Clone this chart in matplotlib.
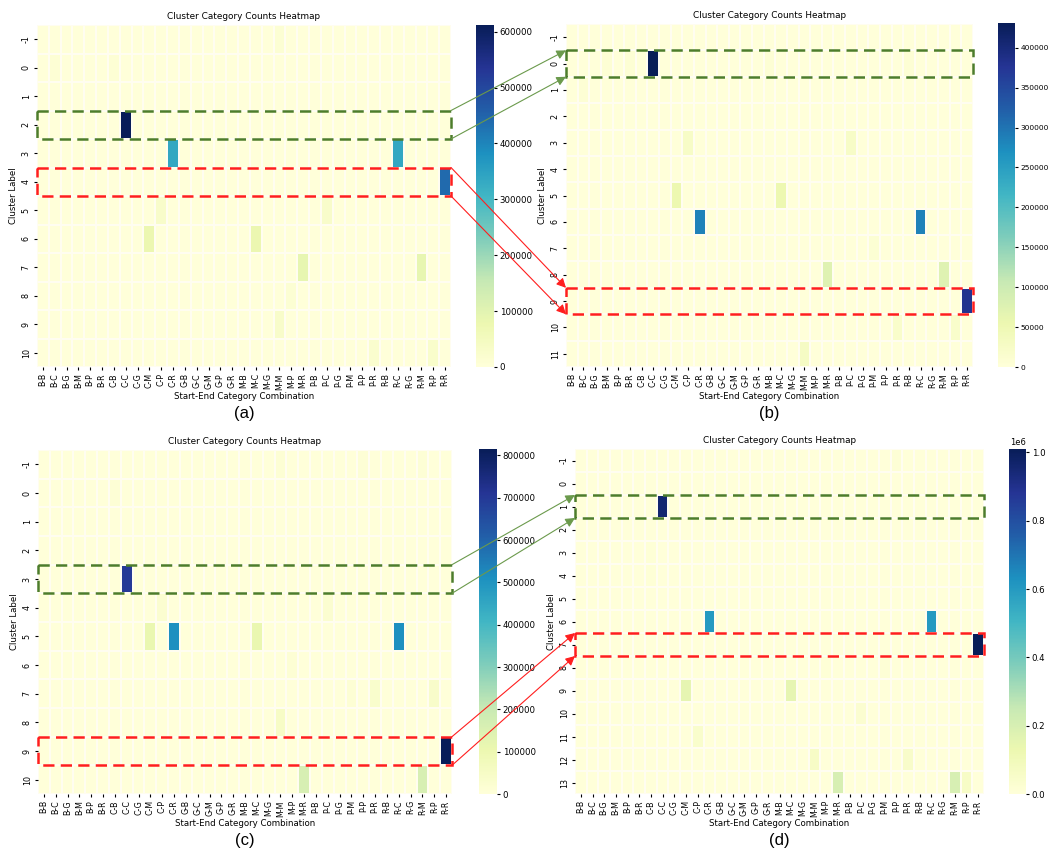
import numpy as np
import pandas as pd
import matplotlib
matplotlib.use('Agg')
import matplotlib.pyplot as plt
import seaborn as sns
from matplotlib.patches import Rectangle, ConnectionPatch

W, H = 1052, 857

combos = ['B-B', 'B-C', 'B-G', 'B-M', 'B-P', 'B-R', 'C-B', 'C-C', 'C-G', 'C-M',
          'C-P', 'C-R', 'G-B', 'G-C', 'G-M', 'G-P', 'G-R', 'M-B', 'M-C', 'M-G',
          'M-M', 'M-P', 'M-R', 'P-B', 'P-C', 'P-G', 'P-M', 'P-P', 'P-R', 'R-B',
          'R-C', 'R-G', 'R-M', 'R-P', 'R-R']

# non-zero counts per (cluster, start-end combination)
clusters_a = list(range(-1, 11))
counts_a = [(-1, 'M-M', 12000), (0, 'B-C', 10000), (0, 'C-B', 10000),
            (2, 'C-C', 612000), (3, 'C-R', 335000), (3, 'R-C', 335000),
            (4, 'R-R', 440000), (5, 'C-P', 30000), (5, 'P-C', 30000),
            (6, 'C-M', 80000), (6, 'M-C', 80000), (7, 'M-R', 90000),
            (7, 'R-M', 90000), (8, 'M-P', 12000), (9, 'M-M', 30000),
            (10, 'P-R', 22000), (10, 'R-P', 28000)]

clusters_b = list(range(-1, 12))
counts_b = [(0, 'B-M', 8000), (0, 'B-R', 8000), (0, 'C-C', 431000),
            (0, 'M-B', 8000), (0, 'R-B', 8000), (1, 'B-C', 8000),
            (3, 'C-P', 25000), (3, 'P-C', 25000), (5, 'C-M', 55000),
            (5, 'M-C', 55000), (6, 'C-R', 285000), (6, 'R-C', 285000),
            (7, 'P-M', 10000), (8, 'M-R', 75000), (8, 'R-M', 75000),
            (9, 'R-R', 380000), (10, 'P-R', 20000), (10, 'R-P', 20000),
            (11, 'M-M', 30000)]

clusters_c = list(range(-1, 11))
counts_c = [(-1, 'M-M', 15000), (-1, 'P-P', 12000), (-1, 'R-M', 12000),
            (0, 'C-B', 10000), (3, 'C-C', 700000), (4, 'C-P', 25000),
            (4, 'P-C', 25000), (5, 'C-M', 110000), (5, 'C-R', 510000),
            (5, 'M-C', 110000), (5, 'R-C', 510000), (6, 'M-P', 15000),
            (7, 'P-M', 15000), (7, 'P-R', 35000), (7, 'R-P', 40000),
            (8, 'M-M', 50000), (9, 'R-R', 815000), (10, 'M-R', 160000),
            (10, 'R-M', 160000)]

clusters_d = list(range(-1, 14))
counts_d = [(-1, 'P-P', 15000), (1, 'C-C', 960000), (3, 'C-B', 10000),
            (4, 'C-B', 10000), (6, 'C-R', 600000), (6, 'R-C', 600000),
            (7, 'R-R', 1010000), (8, 'M-P', 10000), (8, 'P-M', 15000),
            (9, 'C-M', 150000), (9, 'M-C', 150000), (10, 'P-C', 30000),
            (11, 'C-P', 40000), (12, 'M-M', 60000), (12, 'P-R', 50000),
            (13, 'M-R', 200000), (13, 'R-M', 200000), (13, 'R-P', 60000)]


def build_table(clusters, counts):
    df = pd.DataFrame(0, index=clusters, columns=combos, dtype=float)
    for cl, combo, n in counts:
        df.loc[cl, combo] = n
    return df


def px_box(x0, y0, x1, y1):
    return [x0 / W, 1 - y1 / H, (x1 - x0) / W, (y1 - y0) / H]


fig = plt.figure(figsize=(W / 100, H / 100), dpi=100)

panels = [
    (clusters_a, counts_a, (37, 25, 451, 367), (476, 25, 494, 367), '(a)', 6.2),
    (clusters_b, counts_b, (566, 24, 973, 367), (998, 23, 1015, 367), '(b)', 5.4),
    (clusters_c, counts_c, (38, 450, 452, 794), (479, 449, 497, 794), '(c)', 6.2),
    (clusters_d, counts_d, (575, 449, 984, 794), (1009, 449, 1026, 794), '(d)', 6.2),
]

axes = []
for clusters, counts, box, cbox, tag, cb_size in panels:
    ax = fig.add_axes(px_box(*box))
    cax = fig.add_axes(px_box(*cbox))
    table = build_table(clusters, counts)
    sns.heatmap(table, ax=ax, cbar_ax=cax, cmap='YlGnBu', vmin=0,
                linewidths=0.3, linecolor='#fffdf0',
                xticklabels=combos, yticklabels=clusters)
    ax.set_title('Cluster Category Counts Heatmap', fontsize=6.4, pad=4)
    ax.set_xlabel('Start-End Category Combination', fontsize=6.2, labelpad=2)
    ax.set_ylabel('Cluster Label', fontsize=6.2, labelpad=3)
    ax.tick_params(axis='x', labelsize=5.7, rotation=90, length=2.5, pad=2)
    ax.tick_params(axis='y', labelsize=5.8, rotation=90, length=2.5, pad=2)
    for lab in ax.get_yticklabels():
        lab.set_va('center')
    cax.tick_params(labelsize=cb_size, length=2.5, pad=1.5)
    cax.yaxis.get_offset_text().set_fontsize(6)
    cx = (box[0] + box[2]) / 2 / W
    cy = 1 - (box[3] + 46) / H
    fig.text(cx, cy, tag, ha='center', va='center', fontsize=12,
             family='Liberation Sans')
    axes.append(ax)

ax_a, ax_b, ax_c, ax_d = axes

green_box = '#4d7d2b'
green_line = '#6b9a4c'
red = '#ff1e1e'


def band(ax, row, color):
    ax.add_patch(Rectangle((0, row), len(combos), 1, fill=False, ec=color,
                           lw=1.8, ls=(0, (4.5, 2.5)), clip_on=False, zorder=5))


def link(src, src_row, dst, dst_row, color):
    for dy in (0, 1):
        con = ConnectionPatch(xyA=(len(combos), src_row + dy), coordsA=src.transData,
                              xyB=(0, dst_row + dy), coordsB=dst.transData,
                              arrowstyle='-|>', mutation_scale=14, lw=0.8,
                              color=color, shrinkA=0, shrinkB=0, zorder=6)
        fig.add_artist(con)


# row positions are indices into each panel's cluster list
band(ax_a, 3, green_box)
band(ax_b, 1, green_box)
link(ax_a, 3, ax_b, 1, green_line)

band(ax_a, 5, red)
band(ax_b, 10, red)
link(ax_a, 5, ax_b, 10, red)

band(ax_c, 4, green_box)
band(ax_d, 2, green_box)
link(ax_c, 4, ax_d, 2, green_line)

band(ax_c, 10, red)
band(ax_d, 8, red)
link(ax_c, 10, ax_d, 8, red)

fig.savefig('out.png', dpi=100)
